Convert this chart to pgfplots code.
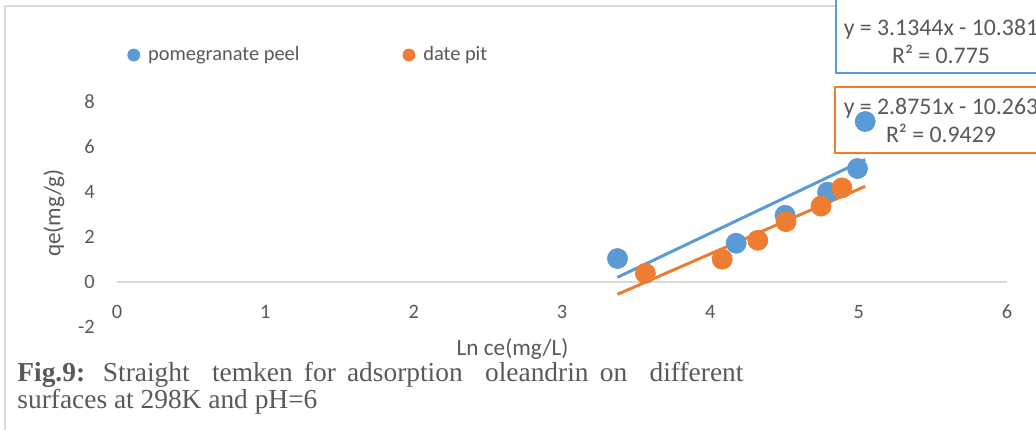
\documentclass[border=0pt]{standalone}
\usepackage{fontspec}
\setmainfont{Carlito}
\newfontfamily\capfont{Liberation Serif}
\usepackage{pgfplots}
\pgfplotsset{compat=1.18}
\definecolor{pblue}{HTML}{5B9BD5}
\definecolor{porange}{HTML}{ED7D31}
\definecolor{txt}{HTML}{595959}
\definecolor{gridc}{HTML}{D9D9D9}
\newcommand{\tickfont}{\fontsize{10.2bp}{12bp}\selectfont}
\newcommand{\labfont}{\fontsize{11.6bp}{14bp}\selectfont}
\newcommand{\eqfont}{\fontsize{11.9bp}{14bp}\selectfont}
\newcommand{\cfont}{\capfont\fontsize{13.7bp}{16bp}\selectfont}
\begin{document}
\begin{tikzpicture}
\useasboundingbox (0,0) rectangle (518bp,-215bp);
\begin{scope}[x=0.5bp,y=-0.5bp]
\draw[gridc, line width=1bp] (5,440) -- (5,6) -- (1040,6);
\draw[pblue, line width=1bp, fill=white] (836,-10) rectangle (1047,72.7);
\node[anchor=base, font=\eqfont, text=txt, inner sep=0pt] at (941,35) {y = 3.1344x - 10.381};
\node[anchor=base, font=\eqfont, text=txt, inner sep=0pt] at (941,63) {R² = 0.775};
\draw[porange, line width=1bp, fill=white] (835,87.3) rectangle (1047,153.3);
\node[anchor=base, font=\eqfont, text=txt, inner sep=0pt] at (941,115) {y = 2.8751x - 10.263};
\node[anchor=base, font=\eqfont, text=txt, inner sep=0pt] at (941,143) {R² = 0.9429};
\node[anchor=base west, font=\cfont, text=txt, inner sep=0pt] at (17,382) {\makebox[363bp][s]{\textbf{Fig.9:} Straight\ \ temken for adsorption\ \ oleandrin on\ \ different}};
\node[anchor=base west, font=\cfont, text=txt, inner sep=0pt] at (17,409) {surfaces at 298K and pH=6};
\end{scope}
\begin{axis}[
  at={(58.5bp,-163.35bp)}, anchor=south west,
  scale only axis, width=445bp, height=112.5bp,
  xmin=0, xmax=6, ymin=-2, ymax=8,
  axis line style={draw=none}, major tick length=0pt,
  xtick={0,1,2,3,4,5,6}, ytick={-2,0,2,4,6,8},
  xticklabels={0,1,2,3,4,5,6}, yticklabels={-2,0,2,4,6,8},
  tick label style={font=\tickfont, text=txt, inner sep=0pt},
  xticklabel style={anchor=center, yshift=7.35bp},
  yticklabel style={anchor=east, xshift=-11bp},
  xlabel={Ln ce(mg/L)}, ylabel={qe(mg/g)},
  label style={font=\labfont, text=txt},
  xlabel style={at={(rel axis cs:0.4444,-0.099)}, anchor=center, inner sep=0pt},
  ylabel style={at={(rel axis cs:-0.0708,0.505)}, anchor=center, inner sep=0pt},
  legend columns=2,
  legend image code/.code={\fill[#1] (3bp,0bp) circle (3bp);},
  legend style={at={(rel axis cs:0.0112,1.2076)}, anchor=west, draw=none, fill=none,
    inner sep=0pt, font=\tickfont, text=txt, nodes={inner sep=0pt},
    /tikz/every odd column/.append style={column sep=4bp},
    /tikz/every even column/.append style={column sep=51.5bp}},
  legend cell align=left,
]
\draw[gridc, line width=1.1bp] (axis cs:0,0) -- (axis cs:6,0);
\addplot[pblue, line width=1.5bp, forget plot] coordinates {(3.374,0.1945) (5.044,5.4289)};
\addplot[porange, line width=1.5bp, forget plot] coordinates {(3.374,-0.5624) (5.044,4.2390)};
\addplot[only marks, mark=*, mark size=5bp, color=pblue, mark options={draw=pblue, fill=pblue}]
  coordinates {(3.374,1.03) (4.174,1.71) (4.504,2.95) (4.790,3.98) (4.992,5.03) (5.044,7.12)};
\addlegendentry{pomegranate peel}
\addplot[only marks, mark=*, mark size=5bp, color=porange, mark options={draw=porange, fill=porange}]
  coordinates {(3.562,0.37) (4.080,1.00) (4.320,1.84) (4.510,2.67) (4.746,3.36) (4.887,4.17)};
\addlegendentry{date pit}
\end{axis}
\end{tikzpicture}
\end{document}
